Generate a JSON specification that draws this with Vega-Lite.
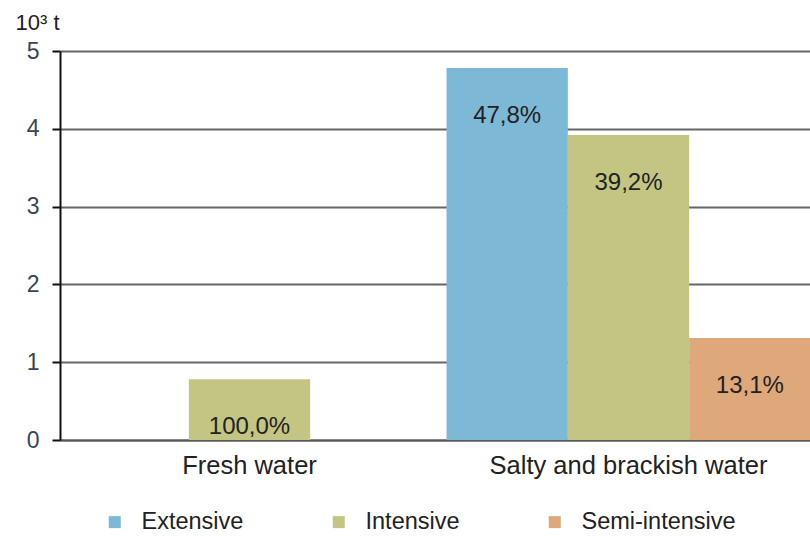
{
  "$schema": "https://vega.github.io/schema/vega-lite/v6.json",
  "autosize": {"type": "none"},
  "padding": {"left": 60, "top": 51, "right": 0, "bottom": 96},
  "width": 750,
  "height": 389,
  "background": "white",
  "config": {
    "font": "Liberation Sans",
    "view": {"stroke": null}
  },
  "data": {
    "values": [
      {"water": "Fresh water", "method": "Intensive", "kt": 0.78, "share": "100,0%"},
      {"water": "Salty and brackish water", "method": "Extensive", "kt": 4.78, "share": "47,8%"},
      {"water": "Salty and brackish water", "method": "Intensive", "kt": 3.92, "share": "39,2%"},
      {"water": "Salty and brackish water", "method": "Semi-intensive", "kt": 1.31, "share": "13,1%"}
    ]
  },
  "encoding": {
    "x": {
      "field": "water",
      "type": "nominal",
      "sort": ["Fresh water", "Salty and brackish water"],
      "scale": {"range": [0, 758], "paddingInner": 0, "paddingOuter": 0},
      "axis": {
        "title": null,
        "labelAngle": 0,
        "labelFontSize": 25.5,
        "labelColor": "#222222",
        "labelPadding": 13,
        "labelLimit": 0,
        "ticks": false,
        "domain": true,
        "domainColor": "#5a5a5a",
        "domainWidth": 2
      }
    },
    "xOffset": {
      "field": "method",
      "type": "nominal",
      "scale": {"domain": ["Extensive", "Intensive", "Semi-intensive"], "paddingInner": 0, "paddingOuter": 0.062}
    },
    "y": {
      "field": "kt",
      "type": "quantitative",
      "scale": {"domain": [0, 5], "nice": false},
      "axis": {
        "title": "10³ t",
        "titleAngle": 0,
        "titleAlign": "center",
        "titleBaseline": "middle",
        "titleX": -23,
        "titleY": -29,
        "titleFontSize": 22,
        "titleFontWeight": "normal",
        "titleColor": "#222222",
        "values": [0, 1, 2, 3, 4, 5],
        "labelFontSize": 23,
        "labelColor": "#3a4556",
        "labelPadding": 13,
        "tickSize": 8,
        "tickColor": "#111111",
        "tickWidth": 2,
        "domainColor": "#111111",
        "domainWidth": 2,
        "grid": true,
        "gridColor": "#666666",
        "gridWidth": 2
      }
    }
  },
  "layer": [
    {
      "mark": {"type": "bar"},
      "encoding": {
        "color": {
          "field": "method",
          "type": "nominal",
          "scale": {
            "domain": ["Extensive", "Intensive", "Semi-intensive"],
            "range": ["#7db8d6", "#c3c683", "#dea87a"]
          },
          "legend": {
            "title": null,
            "orient": "none",
            "direction": "horizontal",
            "columns": 3,
            "legendX": 43,
            "legendY": 459,
            "padding": 0,
            "symbolType": "square",
            "symbolSize": 144,
            "symbolStrokeWidth": 0,
            "symbolOpacity": 1,
            "labelOffset": 15,
            "labelFontSize": 23.5,
            "labelColor": "#222222",
            "columnPadding": 83
          }
        }
      }
    },
    {
      "mark": {"type": "text", "baseline": "middle", "align": "center", "dy": 48, "fontSize": 24, "color": "#222222"},
      "encoding": {
        "text": {"field": "share", "type": "nominal"}
      }
    }
  ]
}
